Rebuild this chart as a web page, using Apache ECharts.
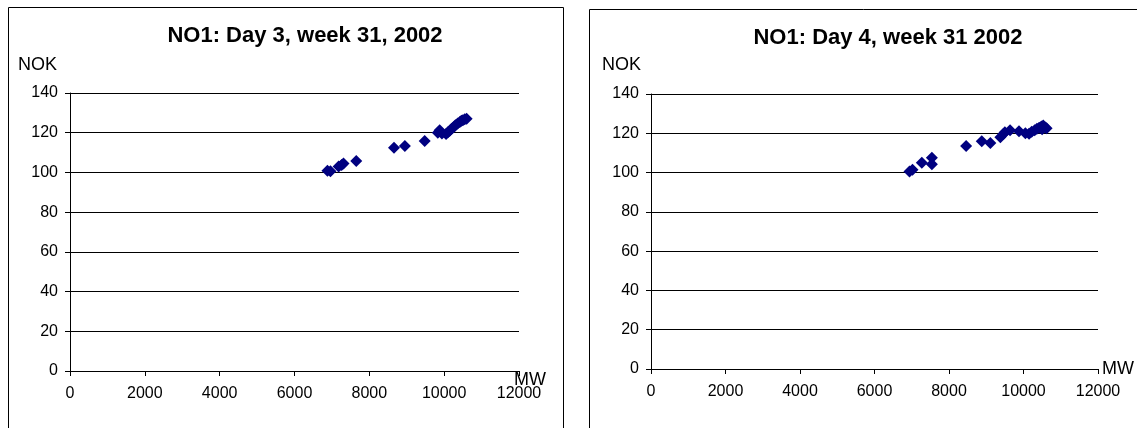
<!DOCTYPE html>
<html>
<head>
<meta charset="utf-8">
<script src="https://cdn.jsdelivr.net/npm/echarts@6/dist/echarts.min.js"></script>
<style>
  html, body { margin: 0; padding: 0; background: #fff; }
  #chart { width: 1137px; height: 428px; }
</style>
</head>
<body>
<div id="chart"></div>
<script>
// Hourly load (MW) and price (NOK) for area NO1
const day3MW  = [6880, 6960, 7180, 7260, 7310, 7650, 8660, 8950, 9480, 9830, 9880, 9940,
                 10050, 10100, 10150, 10200, 10250, 10300, 10360, 10420, 10460, 10500, 10550, 10600];
const day3NOK = [100.8, 100.6, 103.0, 103.8, 104.5, 105.8, 112.4, 113.3, 115.8, 120.0, 121.2, 119.6,
                 119.3, 120.2, 121.0, 122.0, 122.8, 123.8, 124.6, 125.4, 126.0, 126.3, 126.8, 127.0];

const day4MW  = [6940, 7020, 7270, 7540, 7540, 8460, 8880, 9110, 9380, 9460, 9500, 9640,
                 9880, 10050, 10150, 10220, 10300, 10360, 10420, 10480, 10530, 10580, 10620, 10500];
const day4NOK = [100.6, 101.5, 105.0, 107.6, 104.2, 113.5, 116.0, 115.0, 118.0, 119.6, 120.5, 121.5,
                 121.0, 120.0, 119.8, 120.8, 121.5, 122.3, 122.8, 123.5, 124.0, 123.0, 122.6, 122.0];

const titles = ['NO1: Day 3, week 31, 2002', 'NO1: Day 4, week 31 2002'];
const xTicks = [0, 2000, 4000, 6000, 8000, 10000, 12000];
const yTicks = [0, 20, 40, 60, 80, 100, 120, 140];
const xUnit = 'MW';
const yUnit = 'NOK';

const FONT = '"Liberation Sans", Arial, sans-serif';
const pairs = (xs, ys) => xs.map((x, i) => [x, ys[i]]);

const xStep = xTicks[1] - xTicks[0];
const yStep = yTicks[1] - yTicks[0];

function xAxisFor(gridIndex, nameGap, nameVAlign) {
  return {
    type: 'value', gridIndex,
    min: xTicks[0], max: xTicks[xTicks.length - 1], interval: xStep,
    name: xUnit, nameLocation: 'end', nameGap, nameMoveOverlap: false,
    nameTextStyle: { fontFamily: FONT, fontSize: 18, color: '#000', verticalAlign: nameVAlign },
    axisLine: { show: true, lineStyle: { color: '#000', width: 1 } },
    axisTick: { show: true, length: 5, lineStyle: { color: '#000' } },
    axisLabel: { fontFamily: FONT, fontSize: 16, color: '#000', margin: 15,
                 formatter: v => String(v) },
    splitLine: { show: false }
  };
}
function yAxisFor(gridIndex) {
  return {
    type: 'value', gridIndex,
    min: yTicks[0], max: yTicks[yTicks.length - 1], interval: yStep,
    axisLine: { show: true, lineStyle: { color: '#000', width: 1 } },
    axisTick: { show: true, length: 5, lineStyle: { color: '#000' } },
    axisLabel: { fontFamily: FONT, fontSize: 16, color: '#000', margin: 12,
                 formatter: v => String(v) },
    splitLine: { show: true, lineStyle: { color: '#000', width: 1 } }
  };
}
function scatterFor(i, data) {
  return {
    type: 'scatter', xAxisIndex: i, yAxisIndex: i,
    symbol: 'diamond', symbolSize: 12,
    itemStyle: { color: '#000080', opacity: 1 },
    data
  };
}

const chart = echarts.init(document.getElementById('chart'), null, { renderer: 'canvas' });
chart.setOption({
  animation: false,
  backgroundColor: '#fff',
  title: [
    { text: titles[0], left: 300, top: 20, textAlign: 'center',
      textStyle: { fontFamily: FONT, fontSize: 22, fontWeight: 'bold', color: '#000' } },
    { text: titles[1], left: 883, top: 22, textAlign: 'center',
      textStyle: { fontFamily: FONT, fontSize: 22, fontWeight: 'bold', color: '#000' } }
  ],
  grid: [
    { left: 70, top: 93, width: 449, height: 278 },
    { left: 651, top: 94, width: 447, height: 275 }
  ],
  xAxis: [xAxisFor(0, -5, 'top'), xAxisFor(1, 4, 'middle')],
  yAxis: [yAxisFor(0), yAxisFor(1)],
  series: [scatterFor(0, pairs(day3MW, day3NOK)), scatterFor(1, pairs(day4MW, day4NOK))],
  graphic: [
    { type: 'rect', shape: { x: 8.5, y: 7.5, width: 555, height: 440 },
      style: { fill: 'none', stroke: '#000', lineWidth: 1 } },
    { type: 'rect', shape: { x: 589.5, y: 9.5, width: 600, height: 440 },
      style: { fill: 'none', stroke: '#000', lineWidth: 1 } },
    { type: 'text', left: 18, top: 56,
      style: { text: yUnit, font: '18px ' + FONT, fill: '#000' } },
    { type: 'text', left: 602, top: 56,
      style: { text: yUnit, font: '18px ' + FONT, fill: '#000' } }
  ]
});
</script>
</body>
</html>
